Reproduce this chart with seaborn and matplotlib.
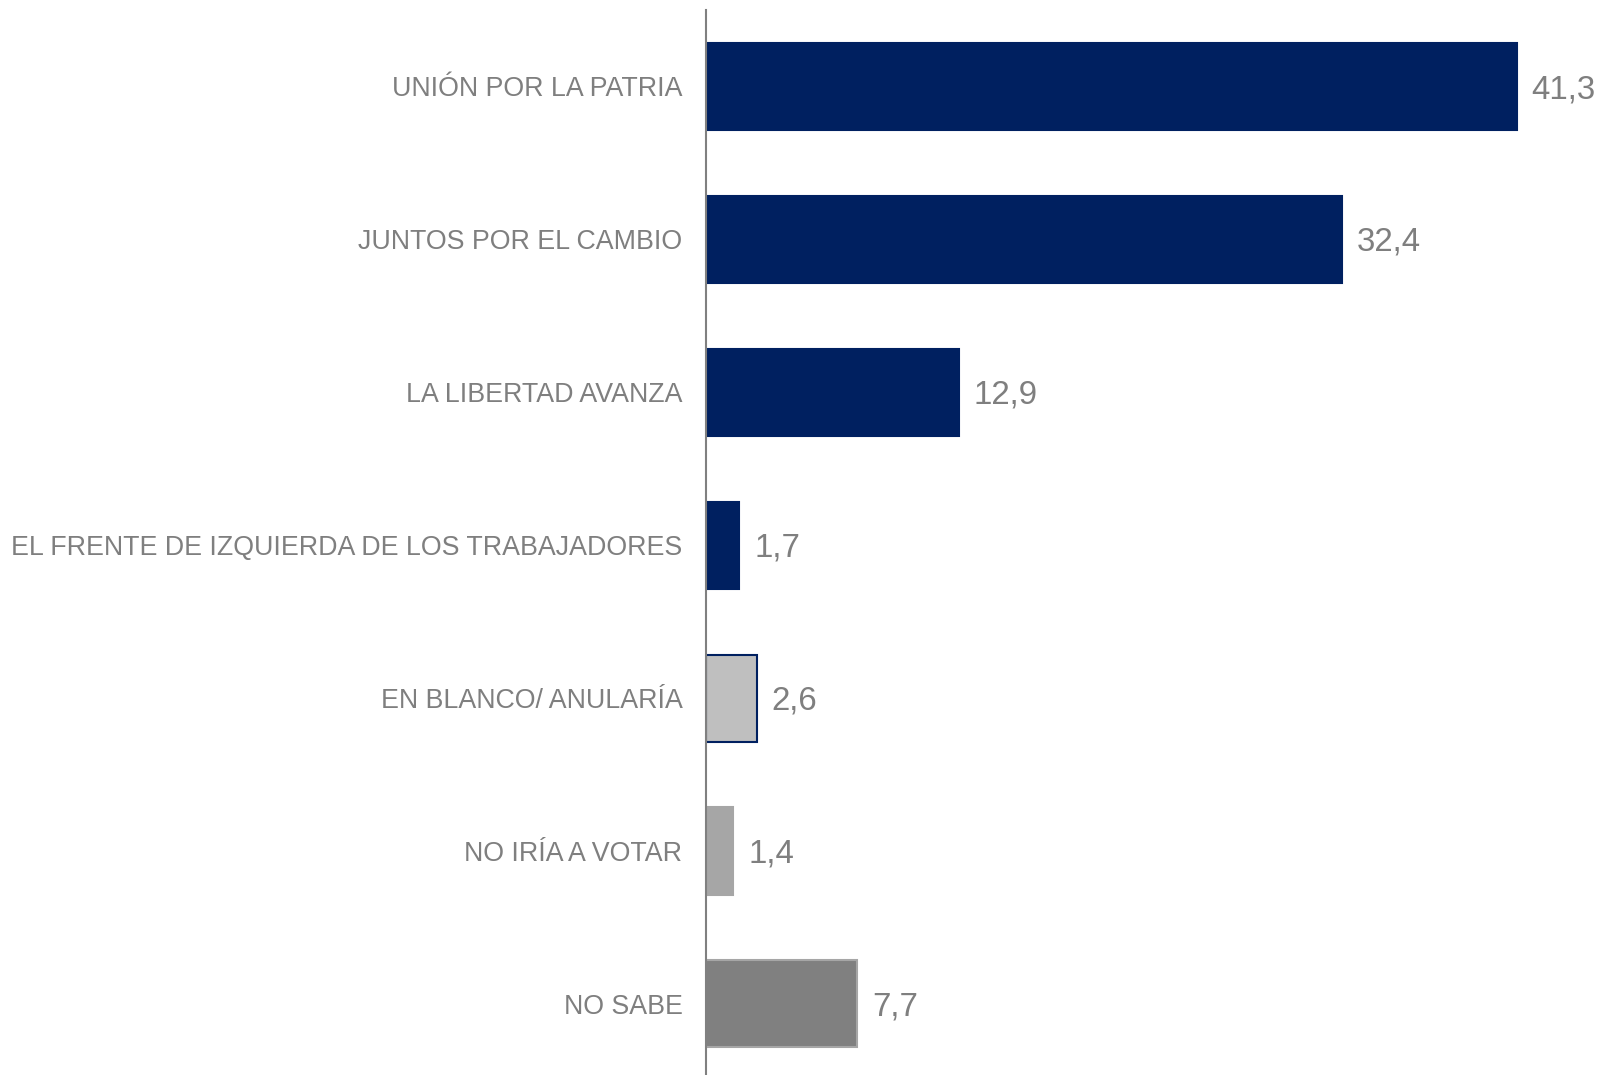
import pandas as pd
import numpy as np
import matplotlib.pyplot as plt
import seaborn as sns

#datos del gráfico
partidos = ['UNIÓN POR LA PATRIA', 'JUNTOS POR EL CAMBIO', 'LA LIBERTAD AVANZA',
            'EL FRENTE DE IZQUIERDA DE LOS TRABAJADORES', 'EN BLANCO/ ANULARÍA',
            'NO IRÍA A VOTAR', 'NO SABE']
porcentaje = [41.3, 32.4, 12.9, 1.7, 2.6, 1.4, 7.7]
colores = ['#002060', '#002060', '#002060', '#002060', '#BFBFBF', '#A6A6A6', '#808080']
bordes = ['#002060', '#002060', '#002060', '#002060', '#002060', '#A6A6A6', '#A6A6A6']

df = pd.DataFrame({'partido': partidos, 'porcentaje': porcentaje})

sns.set_style('white')
plt.rcParams['font.family'] = ['Liberation Sans', 'DejaVu Sans']

fig = plt.figure(figsize=(15.98, 10.75), dpi=100)
ax = fig.add_axes([706 / 1598, 0, 1 - 706 / 1598, 1 - 10 / 1075])

sns.barplot(data=df, x='porcentaje', y='partido', hue='partido', palette=colores,
            legend=False, width=0.57, ax=ax, saturation=1)

for barra, borde in zip(ax.patches, bordes):
    barra.set_edgecolor(borde)
    barra.set_linewidth(1.5)

for i, v in enumerate(porcentaje):
    ax.text(v + 0.75, i + 0.02, f'{v:.1f}'.replace('.', ','), va='center', ha='left',
            fontsize=23.8, color='#7F7F7F')

ax.set_xlim(0, (1598 - 706) / 19.63)
ax.set_ylim(6.465, -0.5)
ax.set_xlabel('')
ax.set_ylabel('')
ax.set_xticks([])
ax.tick_params(axis='y', length=0, pad=17, labelsize=19.3, labelcolor='#7F7F7F')

for lado in ['top', 'right', 'bottom']:
    ax.spines[lado].set_visible(False)
ax.spines['left'].set_color('#808080')
ax.spines['left'].set_linewidth(1.5)

fig.savefig('out.png', dpi=100)
